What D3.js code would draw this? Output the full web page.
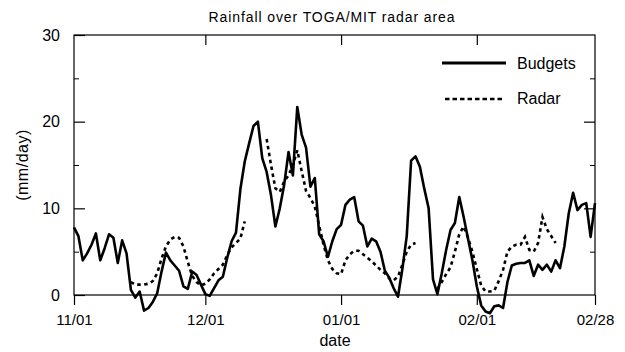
<!DOCTYPE html>
<html>
<head>
<meta charset="utf-8">
<script src="https://cdn.jsdelivr.net/npm/d3@7"></script>
<style>
  body { margin: 0; background: #fff; }
  svg { display: block; font-family: "Liberation Sans", Arial, sans-serif; }
</style>
</head>
<body>
<div id="chart"></div>
<script>
// Data (daily, starting 11/01)
const startDate = "1992-11-01";
const budgets = [
  7.8, 6.8, 4.0, 4.8, 5.8, 7.1, 4.0, 5.4, 7.0, 6.6,
  3.7, 6.3, 4.8, 0.6, -0.3, 0.4, -1.8, -1.5, -0.8, 0.2,
  2.7, 4.9, 4.0, 3.4, 2.8, 1.0, 0.7, 2.7, 2.3, 1.2,
  0.1, -0.1, 0.8, 1.7, 2.1, 4.3, 6.2, 7.2, 12.2, 15.4,
  17.5, 19.5, 20.0, 15.8, 14.2, 11.5, 7.9, 10.0, 12.7, 16.5,
  13.8, 21.7, 18.5, 17.0, 12.5, 13.5, 7.0, 6.2, 4.4, 6.2,
  7.6, 8.1, 10.4, 11.0, 11.3, 8.5, 8.0, 5.6, 6.5, 6.2,
  5.0, 2.8, 2.0, 0.8, -0.2, 3.0, 6.8, 15.5, 16.0, 14.8,
  12.3, 10.0, 1.8, 0.1, 2.5, 5.2, 7.5, 8.3, 11.3, 9.0,
  6.5, 4.0, 1.0, -1.2, -1.9, -2.1, -1.3, -1.2, -1.5, 1.5,
  3.4, 3.6, 3.7, 3.7, 4.0, 2.2, 3.5, 2.9, 3.5, 2.7,
  4.0, 3.1, 5.6, 9.4, 11.8, 9.8, 10.4, 10.6, 6.7, 10.6
];
const radar = [
  null, null, null, null, null, null, null, null, null, null,
  null, null, null, 1.5, 1.2, 1.2, 1.2, 1.3, 1.6, 2.5,
  4.2, 5.6, 6.4, 6.7, 6.6, 5.6, 3.8, 2.2, 1.5, 1.1,
  1.3, 1.8, 2.5, 3.0, 3.5, 4.6, 5.5, 6.0, 6.5, 8.5,
  null, null, null, null, 18.0, 15.0, 12.3, 11.9, 13.1, 13.8,
  15.0, 16.7, 14.3, 12.0, 11.2, 10.2, 8.0, 5.8, 4.0, 3.0,
  2.5, 2.4, 4.0, 4.7, 5.1, 5.1, 4.7, 4.3, 3.9, 3.4,
  2.9, 2.5, 1.9, 1.7, 2.1, 3.5, 5.0, 5.8, 6.0, null,
  null, null, null, 0.7, 1.5, 2.4, 3.2, 5.0, 7.0, 7.9,
  6.6, 5.0, 3.0, 1.1, 0.4, 0.4, 0.5, 1.6, 2.9, 5.0,
  5.6, 5.8, 5.8, 6.7, 5.2, 5.0, 6.0, 9.0, 7.6, 6.8,
  6.0, null, null, null, null, null, null, null, null, null
];
const xTicks = ["1992-11-01", "1992-12-01", "1993-01-01", "1993-02-01", "1993-02-28"];
const yMajorTicks = [0, 10, 20, 30];
const yMinorTicks = [5, 15, 25];

function draw() {
  const parseDate = d3.utcParse("%Y-%m-%d");
  const start = parseDate(startDate);
  const dateOf = (i) => d3.utcDay.offset(start, i);

  const budgetData = budgets.map((v, i) => ({ date: dateOf(i), value: v }));
  const radarData = radar.map((v, i) => ({ date: dateOf(i), value: v }));

  // Dimensions
  const dimensions = {
    width: 625,
    height: 352,
    left: 74,
    right: 595,
    top: 35,
    bottom: 295,
  };

  const svg = d3
    .select("#chart")
    .append("svg")
    .attr("width", dimensions.width)
    .attr("height", dimensions.height);

  // Scales
  const xScale = d3
    .scaleUtc()
    .domain([parseDate(xTicks[0]), parseDate(xTicks[xTicks.length - 1])])
    .range([dimensions.left, dimensions.right]);

  const yScale = d3
    .scaleLinear()
    .domain([0, 30])
    .range([dimensions.bottom, dimensions.top]);

  // Frame
  svg
    .append("rect")
    .attr("x", dimensions.left)
    .attr("y", dimensions.top)
    .attr("width", dimensions.right - dimensions.left)
    .attr("height", dimensions.bottom - dimensions.top)
    .attr("fill", "none")
    .attr("stroke", "#000")
    .attr("stroke-width", 1.2);

  // Axes
  const fmt = d3.utcFormat("%m/%d");
  const xAxis = d3
    .axisBottom(xScale)
    .tickValues(xTicks.map(parseDate))
    .tickFormat(fmt)
    .tickSize(10)
    .tickPadding(9);

  const xAxisGroup = svg
    .append("g")
    .attr("transform", `translate(0, ${dimensions.bottom})`)
    .call(xAxis);
  xAxisGroup.select(".domain").remove();
  xAxisGroup.selectAll("text").style("font-size", "15px").attr("fill", "#000");
  xAxisGroup.selectAll("line").attr("stroke-width", 1.2);

  const xTopGroup = svg
    .append("g")
    .attr("transform", `translate(0, ${dimensions.top})`)
    .call(d3.axisTop(xScale).tickValues(xTicks.slice(1, -1).map(parseDate)).tickFormat("").tickSize(-10));
  xTopGroup.select(".domain").remove();
  xTopGroup.selectAll("line").attr("stroke-width", 1.2);

  const yAxisGroup = svg
    .append("g")
    .attr("transform", `translate(${dimensions.left}, 0)`)
    .call(d3.axisLeft(yScale).tickValues(yMajorTicks).tickSize(-11).tickPadding(14));
  yAxisGroup.select(".domain").remove();
  yAxisGroup.selectAll("text").style("font-size", "16px").attr("fill", "#000");
  yAxisGroup.selectAll("line").attr("stroke-width", 1.2);

  const yMinorGroup = svg
    .append("g")
    .attr("transform", `translate(${dimensions.left}, 0)`)
    .call(d3.axisLeft(yScale).tickValues(yMinorTicks).tickFormat("").tickSize(-5));
  yMinorGroup.select(".domain").remove();

  const yRightGroup = svg
    .append("g")
    .attr("transform", `translate(${dimensions.right}, 0)`)
    .call(d3.axisRight(yScale).tickValues(yMajorTicks.slice(1, -1)).tickFormat("").tickSize(-11));
  yRightGroup.select(".domain").remove();
  yRightGroup.selectAll("line").attr("stroke-width", 1.2);

  const yRightMinor = svg
    .append("g")
    .attr("transform", `translate(${dimensions.right}, 0)`)
    .call(d3.axisRight(yScale).tickValues(yMinorTicks).tickFormat("").tickSize(-5));
  yRightMinor.select(".domain").remove();

  // Lines
  const lineGenerator = d3
    .line()
    .defined((d) => d.value !== null)
    .x((d) => xScale(d.date))
    .y((d) => yScale(d.value));

  svg
    .append("path")
    .datum(budgetData)
    .attr("d", lineGenerator)
    .attr("fill", "none")
    .attr("stroke", "#000")
    .attr("stroke-width", 2.6)
    .attr("stroke-linejoin", "round");

  svg
    .append("path")
    .datum(radarData)
    .attr("d", lineGenerator)
    .attr("fill", "none")
    .attr("stroke", "#000")
    .attr("stroke-width", 2.6)
    .attr("stroke-dasharray", "3.5,3.5");

  // Legend
  const legend = svg.append("g");
  legend
    .append("line")
    .attr("x1", 442).attr("x2", 506)
    .attr("y1", 63).attr("y2", 63)
    .attr("stroke", "#000")
    .attr("stroke-width", 2.8);
  legend
    .append("line")
    .attr("x1", 445).attr("x2", 504)
    .attr("y1", 99).attr("y2", 99)
    .attr("stroke", "#000")
    .attr("stroke-width", 2.4)
    .attr("stroke-dasharray", "4.5,3");
  legend
    .append("text")
    .attr("x", 517).attr("y", 68.5)
    .style("font-size", "16px")
    .text("Budgets");
  legend
    .append("text")
    .attr("x", 517).attr("y", 104)
    .style("font-size", "16px")
    .text("Radar");

  // Titles
  svg
    .append("text")
    .attr("x", 332)
    .attr("y", 22)
    .attr("text-anchor", "middle")
    .style("font-size", "14px")
    .style("letter-spacing", "0.9px")
    .text("Rainfall over TOGA/MIT radar area");

  svg
    .append("text")
    .attr("x", 335)
    .attr("y", 346)
    .attr("text-anchor", "middle")
    .style("font-size", "16px")
    .text("date");

  svg
    .append("text")
    .attr("transform", "rotate(-90)")
    .attr("x", -165)
    .attr("y", 28)
    .attr("text-anchor", "middle")
    .style("font-size", "16px")
    .style("letter-spacing", "0.5px")
    .text("(mm/day)");
}

draw();
</script>
</body>
</html>
